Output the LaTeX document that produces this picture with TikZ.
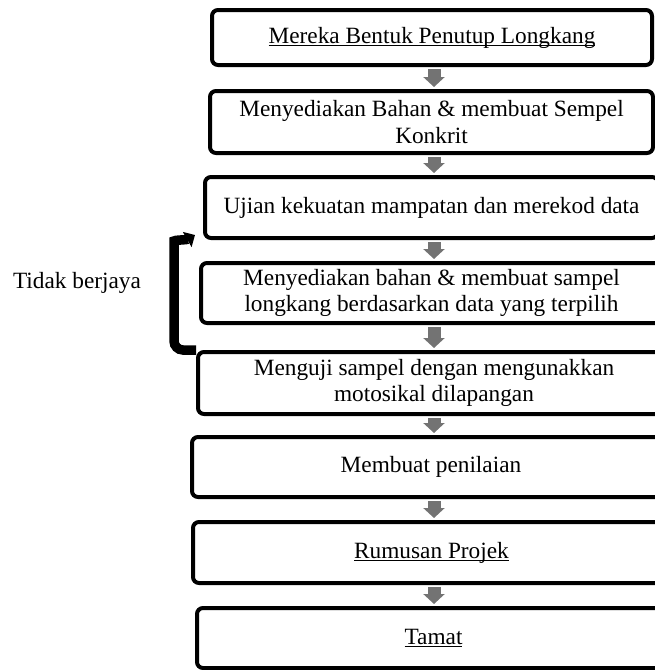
\documentclass[tikz,border=0pt]{standalone}
\usepackage{fontspec}
\setmainfont{Liberation Serif}
\usetikzlibrary{arrows.meta,calc}
\newsavebox\ulbox
\newcommand\myul[1]{\sbox\ulbox{#1}\rlap{\rule[-3pt]{\wd\ulbox}{1.2pt}}\usebox\ulbox}
\begin{document}
\begin{tikzpicture}[x=1pt,y=-1pt,
  font=\fontsize{23.3}{26.5}\selectfont,
  box/.style={draw, line width=4pt, rounded corners=6pt, inner sep=0pt, align=center},
  flowarrow/.style={line width=13pt, draw=black!55, -{Triangle[width=21pt,length=10pt]}, shorten <=2pt, shorten >=2pt},
  feedback/.style={line width=9.5pt, rounded corners=9pt, -{Triangle[width=17pt,length=9pt]}},
  label/.style={inner sep=0pt}]
\useasboundingbox (0,0) rectangle (654,670);
\node[box, minimum width=440, minimum height=55] (b1) at (432,37.5) {\myul{Mereka Bentuk Penutup Longkang}};
\node[box, minimum width=443, minimum height=62] (b2) at (431.5,122) {Menyediakan Bahan \& membuat Sempel\\Konkrit};
\node[box, minimum width=453, minimum height=61] (b3) at (431.5,207.5) {Ujian kekuatan mampatan dan merekod data};
\node[box, minimum width=461, minimum height=60] (b4) at (431.5,293) {Menyediakan bahan \& membuat sampel\\longkang berdasarkan data yang terpilih};
\node[box, minimum width=472, minimum height=62] (b5) at (434,383) {Menguji sampel dengan mengunakkan\\motosikal dilapangan};
\node[box, minimum width=478, minimum height=60] (b6) at (431,467) {Membuat penilaian};
\node[box, minimum width=477, minimum height=61] (b7) at (431.5,552.5) {\myul{Rumusan Projek}};
\node[box, minimum width=473, minimum height=60] (b8) at (433.5,638) {\myul{Tamat}};
\node[label] (tb) at (77,283) {Tidak berjaya};
\coordinate (ax) at (434,0);
\foreach \a/\b in {b1/b2,b2/b3,b3/b4,b4/b5,b5/b6,b6/b7,b7/b8}{
  \draw[flowarrow] (\a.south -| ax) -- (\b.north -| ax);
}
\coordinate (fbx) at (174,0);
\coordinate (fbtop) at (174,250);
\coordinate (fbend) at (195,235);
\draw[feedback] (b5.north west) -- (fbx |- b5.north west) -- (fbtop) to[out=90,in=210] (fbend);
\end{tikzpicture}
\end{document}
